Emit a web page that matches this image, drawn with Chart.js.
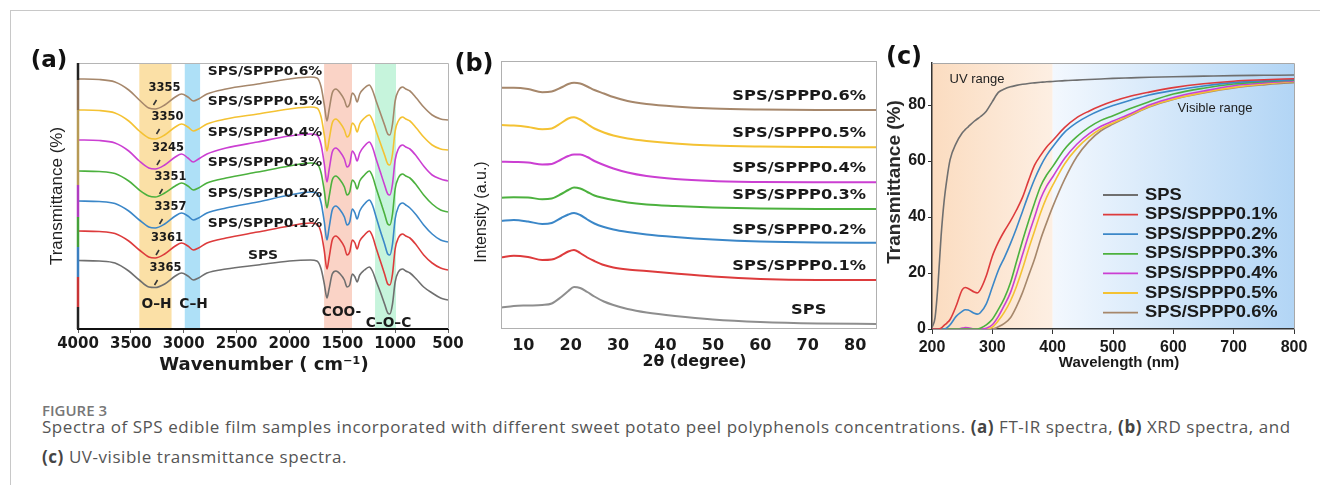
<!DOCTYPE html>
<html>
<head>
<meta charset="utf-8">
<script src="https://cdn.jsdelivr.net/npm/chart.js@4.4.1/dist/chart.umd.min.js"></script>
<style>
  body { margin: 0; width: 1320px; height: 485px; overflow: hidden; position: relative; background: #fff; font-family: "Open Sans", sans-serif; }
  .frame { position: absolute; left: 10px; top: 10px; width: 1330px; height: 500px; border: 1px solid #c8c8c8; }
  canvas { position: absolute; }
  #ca { left: 20px; top: 40px; }
  #cb { left: 440px; top: 40px; }
  #cc { left: 880px; top: 40px; }
  .fig { position: absolute; left: 42px; top: 400px; font-size: 15px; line-height: 20px; font-weight: 600; color: #777; }
  .cap { position: absolute; left: 42px; top: 412px; font-size: 17px; line-height: 30px; letter-spacing: 0.55px; color: #555; white-space: nowrap; }
  .cap b { color: #444; }
</style>
</head>
<body>
<div class="frame"></div>
<canvas id="ca" width="450" height="340"></canvas>
<canvas id="cb" width="440" height="340"></canvas>
<canvas id="cc" width="440" height="340"></canvas>
<div class="fig">FIGURE 3</div>
<div class="cap">Spectra of SPS edible film samples incorporated with different sweet potato peel polyphenols concentrations. <b>(a)</b> FT-IR spectra, <b>(b)</b> XRD spectra, and<br><b>(c)</b> UV-visible transmittance spectra.</div>
<script>
// sample names, bottom to top
const names = ['SPS', 'SPS/SPPP0.1%', 'SPS/SPPP0.2%', 'SPS/SPPP0.3%', 'SPS/SPPP0.4%', 'SPS/SPPP0.5%', 'SPS/SPPP0.6%'];

// (a) FT-IR, stacked traces (arbitrary offset units)
const ftirWavenumber = [4000, 3800, 3650, 3520, 3420, 3330, 3270, 3180, 3080, 3020, 2960, 2910, 2860, 2780, 2600, 2300, 2000, 1800, 1740, 1700, 1670, 1645, 1625, 1595, 1560, 1520, 1480, 1455, 1430, 1405, 1380, 1360, 1335, 1290, 1245, 1215, 1180, 1140, 1100, 1070, 1050, 1025, 1000, 970, 930, 900, 860, 800, 730, 650, 570, 500];
const ftirSPS = [68.5, 68, 66, 58, 49, 42, 41.5, 45, 53, 56, 53, 49, 51, 56, 60, 64, 68, 69, 68, 60, 45, 31, 40, 55, 58, 55, 49, 42, 44, 55, 52, 47, 54, 59, 62, 58, 48, 37, 25, 16, 15, 25, 47, 57, 60, 58, 56, 50, 42, 36, 31, 29];
const ftirP01 = [98, 97.5, 95.5, 88, 79, 72, 71, 75, 83, 86, 83, 79, 81, 86, 91, 97, 103, 106, 105, 96, 78, 60, 71, 89, 93, 89, 82, 74, 77, 89, 86, 80, 88, 94, 98, 93, 81, 68, 55, 45, 44, 55, 80, 91, 95, 93, 91, 84, 74, 66, 61, 59];
const ftirP02 = [128, 127.5, 125.5, 118, 109, 102, 101, 105, 113, 116, 113, 109, 111, 116, 121, 127, 134, 137, 136, 126, 107, 89, 101, 119, 123, 119, 112, 104, 107, 120, 116, 110, 118, 125, 129, 124, 112, 98, 85, 75, 74, 85, 110, 122, 126, 124, 121, 114, 104, 95, 89, 87];
const ftirP03 = [158, 157.5, 155.5, 148, 139, 133, 132, 136, 143, 146, 143, 139, 141, 146, 151, 157, 163, 166, 165, 156, 138, 121, 132, 149, 153, 149, 142, 134, 137, 149, 146, 140, 148, 154, 158, 153, 141, 128, 115, 105, 104, 115, 140, 151, 155, 153, 151, 144, 134, 125, 119, 117];
const ftirP04 = [189, 188.5, 186, 178, 168, 161, 160, 164, 172, 175, 171, 167, 170, 175, 181, 187, 193, 195, 194, 184, 165, 147, 159, 177, 181, 177, 170, 162, 165, 178, 174, 168, 176, 183, 187, 182, 170, 157, 144, 135, 134, 145, 169, 180, 184, 182, 180, 173, 163, 154, 150, 148];
const ftirP05 = [219, 218.5, 216, 208, 198, 191, 190, 194, 202, 205, 202, 198, 200, 205, 210, 215, 220, 222, 221, 212, 194, 178, 189, 206, 210, 206, 199, 192, 195, 206, 203, 197, 205, 211, 214, 209, 198, 186, 174, 165, 164, 175, 198, 208, 212, 210, 208, 201, 192, 184, 180, 179];
const ftirP06 = [250, 249.5, 247, 239, 229, 221, 220, 224, 232, 235, 232, 228, 230, 235, 240, 245, 250, 252, 251, 242, 224, 208, 219, 236, 240, 236, 229, 222, 225, 236, 233, 227, 235, 241, 244, 239, 228, 216, 204, 195, 194, 205, 228, 238, 242, 240, 238, 231, 222, 214, 210, 209];
const ftirTicks = [4000, 3500, 3000, 2500, 2000, 1500, 1000, 500];
const ftirPeaks = ['3365', '3361', '3357', '3351', '3245', '3350', '3355'];
const ftirBandRanges = [[3420, 3115], [2990, 2845], [1672, 1408], [1190, 992]];
const ftirBandNames = ['O\u2013H', 'C\u2013H', 'COO-', 'C\u2013O\u2013C'];

// (b) XRD, stacked traces
const xrdAngle = [5.3, 8, 11, 14, 16, 18, 19.5, 20.7, 22, 23.5, 25, 27, 29, 32, 36, 42, 50, 60, 72, 84.5];
const xrdSPS = [20.3, 22, 22.5, 23, 24.5, 31, 37, 41, 40, 36, 31.5, 26.5, 23, 19, 15.5, 12, 8.5, 6, 4.5, 4];
const xrdP01 = [70.7, 72.3, 71, 68, 68.5, 72.5, 76.5, 78, 75, 70.5, 67, 63, 60.5, 58.5, 57, 54.5, 51.5, 49, 48, 48];
const xrdP02 = [107, 108, 106.5, 104, 105, 110, 113.5, 115, 113, 108.5, 104.5, 101, 98.5, 96, 93.5, 91, 88.5, 86.5, 85.5, 85.3];
const xrdP03 = [130.3, 130.7, 130.5, 128.7, 129.5, 134, 138, 140.5, 139.5, 136, 132.5, 130, 128, 125.5, 123.5, 122, 120.5, 119.5, 119, 119];
const xrdP04 = [166.3, 166, 165.5, 163.5, 164, 168.5, 172, 173.5, 173.5, 171, 167, 163, 159.5, 155.5, 152, 149, 147, 146, 145.7, 145.7];
const xrdP05 = [203, 202.5, 201, 198.7, 199.5, 205, 209.5, 210.7, 208.5, 204, 199.5, 195.5, 192.5, 189.5, 187, 184.5, 182.5, 181.5, 181, 180.7];
const xrdP06 = [240.3, 240.3, 239, 235.7, 236.5, 240.5, 244, 245.3, 244.5, 241.5, 238, 234.5, 231, 227, 224, 221.5, 219.5, 218.5, 218, 218];
const xrdTicks = [10, 20, 30, 40, 50, 60, 70, 80];

// (c) UV-vis transmittance (%)
const uvWavelength = [200, 205, 210, 215, 220, 225, 230, 240, 250, 255, 260, 270, 275, 280, 290, 300, 310, 320, 330, 340, 350, 360, 370, 380, 390, 400, 420, 440, 460, 480, 500, 530, 560, 600, 650, 700, 750, 800];
const uvSPS = [0.5, 4, 16, 33, 45.5, 54, 60.5, 66.3, 70, 71.2, 72.2, 74.2, 75, 75.8, 77.8, 81.2, 84.5, 85.7, 86.5, 87, 87.4, 87.7, 87.9, 88.1, 88.3, 88.4, 88.7, 88.9, 89.1, 89.3, 89.5, 89.7, 89.9, 90.1, 90.3, 90.5, 90.6, 90.7];
const uvP01 = [0, 0, 0, 0.3, 1.3, 2.2, 3.4, 8.2, 14, 14.8, 14.5, 13.2, 12.9, 14, 19, 26, 31, 35, 38.5, 42.5, 47, 53, 58.5, 62, 65, 67.3, 72, 75.5, 77.8, 79.7, 81.3, 83.2, 84.6, 86.2, 87.6, 88.5, 89, 89.4];
const uvP02 = [0, 0, 0, 0, 0, 0.5, 1.5, 4.5, 6.3, 6.9, 6.8, 5.6, 5.3, 5.8, 9, 15, 21, 25.5, 30.5, 36, 42, 48, 53.5, 58.2, 62, 65, 70.3, 73.7, 76.2, 78.2, 79.8, 81.8, 83.6, 85.2, 86.8, 88, 88.6, 89];
const uvP03 = [0, 0, 0, 0, 0, 0, 0, 0, 0, 0, 0, 0, 0, 0.3, 1.5, 3.5, 7, 11, 16.5, 24, 31.5, 38.5, 45, 51, 55, 58, 64.3, 68.7, 72, 74.5, 76.2, 78.8, 81.2, 83.9, 86, 87.5, 88.3, 88.9];
const uvP04 = [0, 0, 0, 0, 0, 0, 0, 0, 0.3, 0.5, 0.4, 0, 0, 0, 0.3, 1.5, 4.5, 8.5, 13, 19.5, 26.5, 33.5, 40, 46.5, 51, 54.3, 61, 66, 69.7, 72.4, 74.3, 77, 80, 82.7, 85, 86.9, 87.9, 88.6];
const uvP05 = [0, 0, 0, 0, 0, 0, 0, 0, 0, 0, 0, 0, 0, 0, 0, 0.7, 3, 6, 10, 15.2, 21.5, 28.5, 35, 41.5, 47, 51.3, 59, 64.5, 68.5, 71.5, 73.6, 76.5, 79.5, 82.1, 84.5, 86.3, 87.5, 88.4];
const uvP06 = [0, 0, 0, 0, 0, 0, 0, 0, 0, 0, 0, 0, 0, 0, 0, 0, 0.8, 2, 4, 8, 13, 19, 25, 32, 38, 43.6, 53.5, 61.5, 67, 70.8, 73.2, 76.3, 79.3, 82, 84.3, 86.1, 87.2, 88];
const uvTicksY = [0, 20, 40, 60, 80];

const lineColors = ['#6f6f6f', '#dd3b3c', '#3b87c8', '#4cb13e', '#cb3fd2', '#f4c233', '#a6876b'];
const xrdColors = ['#8e8e8e', '#dd3b3c', '#3b87c8', '#4cb13e', '#cb3fd2', '#f4c233', '#a6876b'];
const bandColors = ['#fbe0a6', '#aee0f7', '#fad3c6', '#c6f4dc'];

function pts(xs, ys) {
  return xs.map((x, i) => ({ x: x, y: ys[i] }));
}

function text(ctx, str, x, y, font, color, align, sx, rot) {
  ctx.save();
  ctx.font = font;
  ctx.fillStyle = color;
  ctx.textAlign = align || 'center';
  ctx.textBaseline = 'middle';
  ctx.translate(x, y);
  if (rot) ctx.rotate(rot);
  ctx.scale(sx || 1, 1);
  ctx.fillText(str, 0, 0);
  ctx.restore();
}

function dv(size) { return 'bold ' + size + 'px "DejaVu Sans"'; }

Chart.defaults.font.family = '"DejaVu Sans", sans-serif';

// ---------- (a) FT-IR ----------
const ftirDecor = {
  id: 'ftirDecor',
  beforeDraw(chart) {
    const { ctx, chartArea: a, scales: { x } } = chart;
    ctx.save();
    ftirBandRanges.forEach((r, i) => {
      const x1 = x.getPixelForValue(r[0]);
      const x2 = x.getPixelForValue(r[1]);
      ctx.fillStyle = bandColors[i];
      ctx.fillRect(x1, a.top, x2 - x1, a.bottom - a.top);
    });
    ctx.restore();
  },
  afterDraw(chart) {
    const { ctx, chartArea: a, scales: { x, y } } = chart;
    ctx.save();
    // top / right frame
    ctx.strokeStyle = '#b5b5b5';
    ctx.lineWidth = 1;
    ctx.beginPath();
    ctx.moveTo(a.left, a.top + 0.5);
    ctx.lineTo(a.right + 0.5, a.top + 0.5);
    ctx.lineTo(a.right + 0.5, a.bottom);
    ctx.stroke();
    // left axis drawn in the sample colours
    const segs = [[266, 249, '#222'], [249, 219, '#8a6f55'], [219, 144, '#b79a55'], [144, 112, '#b03cc0'], [112, 82, '#45a03a'], [82, 52, '#3b7fc0'], [52, 22, '#c83536'], [22, 0, '#222']];
    ctx.lineWidth = 2.5;
    segs.forEach(s => {
      ctx.strokeStyle = s[2];
      ctx.beginPath();
      ctx.moveTo(a.left, y.getPixelForValue(s[0]));
      ctx.lineTo(a.left, y.getPixelForValue(s[1]));
      ctx.stroke();
    });
    ctx.restore();

    // sample names and O-H peak positions
    const nameY = [73, 105, 135, 166, 196, 227, 257];
    const peakX = [3172, 3158, 3125, 3125, 3149, 3153, 3182];
    const peakY = [61, 91, 122, 152, 181, 212, 241];
    names.forEach((n, i) => {
      text(ctx, n, x.getPixelForValue(i === 0 ? 2250 : 2231), y.getPixelForValue(nameY[i]), dv(13), '#1a1a1a', 'center', 1.07);
      const px = x.getPixelForValue(peakX[i]);
      const py = y.getPixelForValue(peakY[i]);
      text(ctx, ftirPeaks[i], px, py, dv(11.5), '#1a1a1a', 'center', 1);
      ctx.save();
      ctx.strokeStyle = '#333';
      ctx.lineWidth = 1.6;
      ctx.beginPath();
      ctx.moveTo(px - 8, py + 12);
      ctx.lineTo(px - 11, py + 17);
      ctx.stroke();
      ctx.restore();
    });
    // band names
    const bandLabelPos = [[3257, 25], [2907, 25], [1507, 17], [1063, 6]];
    ftirBandNames.forEach((n, i) => {
      text(ctx, n, x.getPixelForValue(bandLabelPos[i][0]), y.getPixelForValue(bandLabelPos[i][1]), dv(13.5), '#1a1a1a', 'center', 1.02);
    });
    // titles
    text(ctx, '(a)', 29, 21, dv(23), '#111', 'center', 1);
    text(ctx, 'Transmittance (%)', 37, 156, '17px "Liberation Sans"', '#222', 'center', 1, -Math.PI / 2);
    text(ctx, 'Wavenumber ( cm\u207B\u00B9)', 244, 325, dv(18), '#1a1a1a', 'center', 1);
  }
};

new Chart(document.getElementById('ca'), {
  type: 'line',
  data: {
    datasets: [ftirSPS, ftirP01, ftirP02, ftirP03, ftirP04, ftirP05, ftirP06].map((ys, i) => ({
      label: names[i],
      data: pts(ftirWavenumber, ys),
      borderColor: lineColors[i],
      borderWidth: 1.6,
      pointRadius: 0,
      cubicInterpolationMode: 'monotone'
    }))
  },
  options: {
    responsive: false,
    animation: false,
    devicePixelRatio: 1,
    layout: { padding: { left: 0, right: 22, top: 23, bottom: 0 } },
    plugins: { legend: { display: false }, tooltip: { enabled: false } },
    scales: {
      x: {
        type: 'linear', reverse: true, min: 500, max: 4000,
        afterFit: s => { s.height = 51; },
        afterBuildTicks: s => { s.ticks = ftirTicks.map(v => ({ value: v })); },
        grid: { drawOnChartArea: false, drawTicks: true, tickLength: 4, color: '#666' },
        border: { display: true, color: '#111', width: 2 },
        ticks: { callback: v => String(v), font: { family: '"DejaVu Sans"', weight: 'bold', size: 15 }, color: '#1a1a1a', padding: 2, maxRotation: 0, autoSkip: false }
      },
      y: {
        min: 0, max: 266,
        afterFit: s => { s.width = 58; },
        grid: { display: false },
        border: { display: false },
        ticks: { display: false }
      }
    }
  },
  plugins: [ftirDecor]
});

// ---------- (b) XRD ----------
const xrdDecor = {
  id: 'xrdDecor',
  afterDraw(chart) {
    const { ctx, chartArea: a, scales: { x, y } } = chart;
    ctx.save();
    ctx.strokeStyle = '#b0b0b0';
    ctx.lineWidth = 1;
    ctx.strokeRect(a.left + 0.5, a.top + 0.5, a.right - a.left, a.bottom - a.top);
    ctx.restore();
    const nameY = [18, 61.3, 98, 133, 159.7, 194.7, 231.3];
    names.forEach((n, i) => {
      if (i === 0) {
        text(ctx, n, x.getPixelForValue(70.2), y.getPixelForValue(nameY[i]), dv(14), '#1a1a1a', 'center', 1.16);
      } else {
        text(ctx, n, x.getPixelForValue(82.3), y.getPixelForValue(nameY[i]), dv(14), '#1a1a1a', 'right', 1.16);
      }
    });
    text(ctx, '(b)', 34, 25, dv(24), '#111', 'center', 1);
    text(ctx, 'Intensity (a.u.)', 42, 172, '16px "Liberation Sans"', '#222', 'center', 1, -Math.PI / 2);
    text(ctx, '2\u03B8 (degree)', 254.5, 322, dv(15), '#1a1a1a', 'center', 1.05);
  }
};

new Chart(document.getElementById('cb'), {
  type: 'line',
  data: {
    datasets: [xrdSPS, xrdP01, xrdP02, xrdP03, xrdP04, xrdP05, xrdP06].map((ys, i) => ({
      label: names[i],
      data: pts(xrdAngle, ys),
      borderColor: xrdColors[i],
      borderWidth: 2,
      pointRadius: 0,
      cubicInterpolationMode: 'monotone'
    }))
  },
  options: {
    responsive: false,
    animation: false,
    devicePixelRatio: 1,
    layout: { padding: { left: 0, right: 4, top: 21, bottom: 0 } },
    plugins: { legend: { display: false }, tooltip: { enabled: false } },
    scales: {
      x: {
        type: 'linear', min: 5.3, max: 84.4,
        afterFit: s => { s.height = 52; },
        afterBuildTicks: s => { s.ticks = xrdTicks.map(v => ({ value: v })); },
        grid: { display: false },
        border: { display: false },
        ticks: { font: { family: '"DejaVu Sans"', weight: 'bold', size: 16 }, color: '#1a1a1a', padding: 0, maxRotation: 0, autoSkip: false }
      },
      y: {
        min: 0, max: 267,
        afterFit: s => { s.width = 61; },
        grid: { display: false },
        border: { display: false },
        ticks: { display: false }
      }
    }
  },
  plugins: [xrdDecor]
});

// ---------- (c) UV-vis ----------
const uvDecor = {
  id: 'uvDecor',
  beforeDraw(chart) {
    const { ctx, chartArea: a, scales: { x } } = chart;
    const x400 = x.getPixelForValue(400);
    ctx.save();
    let g = ctx.createLinearGradient(a.left, 0, x400, 0);
    g.addColorStop(0, '#fbdcc0');
    g.addColorStop(1, '#fdefe3');
    ctx.fillStyle = g;
    ctx.fillRect(a.left, a.top, x400 - a.left, a.bottom - a.top);
    g = ctx.createLinearGradient(x400, 0, a.right, 0);
    g.addColorStop(0, '#f3f8fe');
    g.addColorStop(1, '#b2d5f5');
    ctx.fillStyle = g;
    ctx.fillRect(x400, a.top, a.right - x400, a.bottom - a.top);
    ctx.restore();
  },
  afterDraw(chart) {
    const { ctx, chartArea: a, scales: { x, y } } = chart;
    ctx.save();
    ctx.strokeStyle = '#a8a8a8';
    ctx.lineWidth = 1;
    ctx.beginPath();
    ctx.moveTo(a.left, a.top + 0.5);
    ctx.lineTo(a.right + 0.5, a.top + 0.5);
    ctx.lineTo(a.right + 0.5, a.bottom);
    ctx.stroke();
    // legend
    const top = a.top + 132;
    names.forEach((n, i) => {
      const ly = top + i * 19.6;
      ctx.strokeStyle = lineColors[i];
      ctx.lineWidth = 1.8;
      ctx.beginPath();
      ctx.moveTo(a.left + 171, ly);
      ctx.lineTo(a.left + 206, ly);
      ctx.stroke();
      text(ctx, n, a.left + 213, ly, 'bold 17px "Liberation Sans"', '#1a1a1a', 'left', 1.08);
    });
    ctx.restore();
    text(ctx, 'UV range', x.getPixelForValue(229), y.getPixelForValue(89), '13px "Liberation Sans"', '#222', 'left', 1);
    text(ctx, 'Visible range', x.getPixelForValue(607), y.getPixelForValue(78.7), '13px "Liberation Sans"', '#222', 'left', 1);
    text(ctx, '(c)', 24, 18, dv(24), '#111', 'center', 1);
    text(ctx, 'Transmittance (%)', 15, 142, 'bold 19px "Liberation Sans"', '#2a2a2a', 'center', 1, -Math.PI / 2);
    text(ctx, 'Wavelength (nm)', 239, 323, 'bold 15px "Liberation Sans"', '#1a1a1a', 'center', 1);
  }
};

new Chart(document.getElementById('cc'), {
  type: 'line',
  data: {
    datasets: [uvSPS, uvP01, uvP02, uvP03, uvP04, uvP05, uvP06].map((ys, i) => ({
      label: names[i],
      data: pts(uvWavelength, ys),
      borderColor: lineColors[i],
      borderWidth: 1.6,
      pointRadius: 0,
      cubicInterpolationMode: 'monotone'
    }))
  },
  options: {
    responsive: false,
    animation: false,
    devicePixelRatio: 1,
    layout: { padding: { left: 0, right: 26, top: 23, bottom: 0 } },
    plugins: { legend: { display: false }, tooltip: { enabled: false } },
    scales: {
      x: {
        type: 'linear', min: 200, max: 800,
        afterFit: s => { s.height = 51; },
        grid: { drawOnChartArea: false, drawTicks: true, tickLength: 5, color: '#333' },
        border: { display: true, color: '#333', width: 1.5 },
        ticks: { stepSize: 100, font: { family: '"Liberation Sans"', weight: 'bold', size: 16 }, color: '#1a1a1a', padding: 4, maxRotation: 0, autoSkip: false }
      },
      y: {
        min: 0, max: 95,
        afterFit: s => { s.width = 52; },
        afterBuildTicks: s => { s.ticks = uvTicksY.map(v => ({ value: v })); },
        grid: { drawOnChartArea: false, drawTicks: true, tickLength: 4, color: '#333' },
        border: { display: true, color: '#333', width: 1.5 },
        ticks: { font: { family: '"Liberation Sans"', weight: 'bold', size: 16 }, color: '#1a1a1a', padding: 2 }
      }
    }
  },
  plugins: [uvDecor]
});
</script>
</body>
</html>
